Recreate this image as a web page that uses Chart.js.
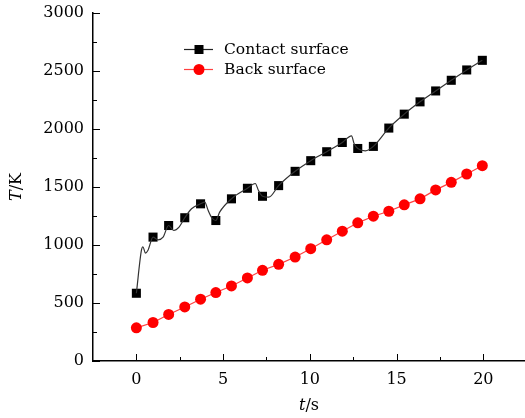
<!DOCTYPE html>
<html>
<head>
<meta charset="utf-8">
<script src="https://cdn.jsdelivr.net/npm/chart.js@4.4.1/dist/chart.umd.min.js"></script>
<style>
  html, body { margin: 0; padding: 0; background: #fff; overflow: hidden; }
  canvas { display: block; }
</style>
</head>
<body>
<canvas id="chart" width="525" height="418"></canvas>
<script>
// time (s) of the marked points, shared by both series
const time = [0, 0.96, 1.86, 2.79, 3.7, 4.58, 5.48, 6.4, 7.27, 8.2, 9.15, 10.05,
              10.97, 11.87, 12.76, 13.66, 14.55, 15.44, 16.35, 17.25, 18.15, 19.04, 19.94];
const contact = [584, 1068, 1168, 1235, 1355, 1211, 1398, 1489, 1420, 1512, 1635, 1727,
                 1804, 1884, 1832, 1850, 2008, 2128, 2234, 2328, 2420, 2509, 2592];
const back = [286, 332, 401, 466, 533, 590, 647, 716, 782, 833, 896, 968,
              1045, 1119, 1191, 1248, 1291, 1346, 1398, 1475, 1540, 1612, 1684];

// finer contact-surface trace (thin line between markers)
const curveTime = [0, 0.29, 0.38, 0.52, 0.67, 0.96, 1.25, 1.54, 1.86, 2.15, 2.46, 2.79,
                   3.18, 3.7, 3.94, 4.14, 4.35, 4.58, 4.8, 5.48, 6.4, 6.85, 7.04, 7.27,
                   7.63, 8.2, 9.15, 10.05, 10.97, 11.87, 12.4, 12.56, 12.76, 13.2, 13.66,
                   14.55, 15.44, 16.35, 17.25, 18.15, 19.04, 19.94];
const curveTemp = [584, 953, 985, 930, 955, 1068, 1045, 1068, 1168, 1125, 1154, 1235,
                   1312, 1355, 1370, 1297, 1235, 1211, 1283, 1398, 1489, 1530, 1470, 1420,
                   1412, 1512, 1635, 1727, 1804, 1884, 1940, 1870, 1832, 1812, 1850,
                   2008, 2128, 2234, 2328, 2420, 2509, 2592];

const xTicks = [0, 5, 10, 15, 20];
const xMinor = [2.5, 7.5, 12.5, 17.5];
const yTicks = [0, 500, 1000, 1500, 2000, 2500, 3000];
const yMinor = [250, 750, 1250, 1750, 2250, 2750];

const seriesNames = ['Contact surface', 'Back surface'];

const FONT = '"DejaVu Serif", serif';

const toPts = (xs, ys) => xs.map((x, i) => ({ x: x, y: ys[i] }));

// inward tick marks, axis titles and the legend box
const decor = {
  id: 'decor',
  afterDraw(chart) {
    const ctx = chart.ctx;
    const xs = chart.scales.x, ys = chart.scales.y;
    const area = chart.chartArea;
    ctx.save();
    ctx.strokeStyle = '#000';
    ctx.lineWidth = 1;
    const tickX = (v, len) => {
      const p = Math.round(xs.getPixelForValue(v)) + 0.5;
      ctx.beginPath(); ctx.moveTo(p, area.bottom); ctx.lineTo(p, area.bottom - len); ctx.stroke();
    };
    const tickY = (v, len) => {
      const p = Math.round(ys.getPixelForValue(v)) + 0.5;
      ctx.beginPath(); ctx.moveTo(area.left, p); ctx.lineTo(area.left + len, p); ctx.stroke();
    };
    xTicks.forEach(v => tickX(v, 7));
    xMinor.forEach(v => tickX(v, 4));
    yTicks.forEach(v => tickY(v, 7));
    yMinor.forEach(v => tickY(v, 4));

    // axis titles, italic symbol + upright unit
    ctx.fillStyle = '#000';
    ctx.textBaseline = 'middle';
    ctx.textAlign = 'left';
    const titlePart = (sym, unit, cx, cy) => {
      ctx.font = 'italic 16px ' + FONT;
      const w1 = ctx.measureText(sym).width;
      ctx.font = '16px ' + FONT;
      const w2 = ctx.measureText(unit).width;
      const x0 = cx - (w1 + w2) / 2;
      ctx.font = 'italic 16px ' + FONT;
      ctx.fillText(sym, x0, cy);
      ctx.font = '16px ' + FONT;
      ctx.fillText(unit, x0 + w1, cy);
    };
    titlePart('t', '/s', (area.left + area.right) / 2, 406);
    ctx.save();
    ctx.translate(17, (area.top + area.bottom) / 2);
    ctx.rotate(-Math.PI / 2);
    titlePart('T', '/K', 0, 0);
    ctx.restore();

    // legend
    const rows = [
      { y: 49, line: '#222', mark: 'rect' },
      { y: 69, line: '#ff4040', mark: 'circle' }
    ];
    ctx.font = '15.5px ' + FONT;
    rows.forEach((r, i) => {
      ctx.strokeStyle = r.line;
      ctx.lineWidth = 1.2;
      ctx.beginPath(); ctx.moveTo(184, r.y + 0.5); ctx.lineTo(213, r.y + 0.5); ctx.stroke();
      if (r.mark === 'rect') {
        ctx.fillStyle = '#000';
        ctx.fillRect(194.5, r.y - 4, 9, 9);
      } else {
        ctx.fillStyle = '#ff0000';
        ctx.beginPath(); ctx.arc(199, r.y + 0.5, 5.5, 0, Math.PI * 2); ctx.fill();
      }
      ctx.fillStyle = '#000';
      ctx.fillText(seriesNames[i], 224, r.y + 1);
    });
    ctx.restore();
  }
};

new Chart(document.getElementById('chart'), {
  type: 'scatter',
  data: {
    datasets: [
      {
        label: seriesNames[0] + ' trace',
        data: toPts(curveTime, curveTemp),
        showLine: true,
        borderColor: '#333',
        borderWidth: 1.2,
        pointRadius: 0,
        cubicInterpolationMode: 'monotone'
      },
      {
        label: seriesNames[0],
        data: toPts(time, contact),
        showLine: false,
        pointStyle: 'rect',
        pointRadius: 6.4,
        backgroundColor: '#000',
        borderColor: '#000',
        borderWidth: 0
      },
      {
        label: seriesNames[1],
        data: toPts(time, back),
        showLine: true,
        borderColor: '#ff4040',
        borderWidth: 1.2,
        pointStyle: 'circle',
        pointRadius: 5.5,
        backgroundColor: '#ff0000',
        pointBorderColor: '#ff0000',
        pointBorderWidth: 0
      }
    ]
  },
  options: {
    responsive: false,
    animation: false,
    devicePixelRatio: 1,
    layout: { autoPadding: false, padding: { top: 13, right: 0, left: 0, bottom: 0 } },
    plugins: { legend: { display: false }, tooltip: { enabled: false } },
    scales: {
      x: {
        type: 'linear',
        min: -2.5,
        max: 22.4,
        afterBuildTicks: s => { s.ticks = xTicks.map(v => ({ value: v })); },
        afterFit: s => { s.height = 57; s.paddingLeft = 0; s.paddingRight = 0; },
        grid: { display: false, drawTicks: false },
        border: { display: true, color: '#000', width: 1.5 },
        ticks: {
          color: '#000', padding: 9, maxRotation: 0,
          font: { family: FONT, size: 16 },
          callback: v => String(v)
        }
      },
      y: {
        type: 'linear',
        min: 0,
        max: 3000,
        afterBuildTicks: s => { s.ticks = yTicks.map(v => ({ value: v })); },
        afterFit: s => { s.width = 93; s.paddingTop = 0; s.paddingBottom = 0; },
        grid: { display: false, drawTicks: false },
        border: { display: true, color: '#000', width: 1.5 },
        ticks: {
          color: '#000', padding: 9,
          font: { family: FONT, size: 16 },
          callback: v => String(v)
        }
      }
    }
  },
  plugins: [decor]
});
</script>
</body>
</html>
